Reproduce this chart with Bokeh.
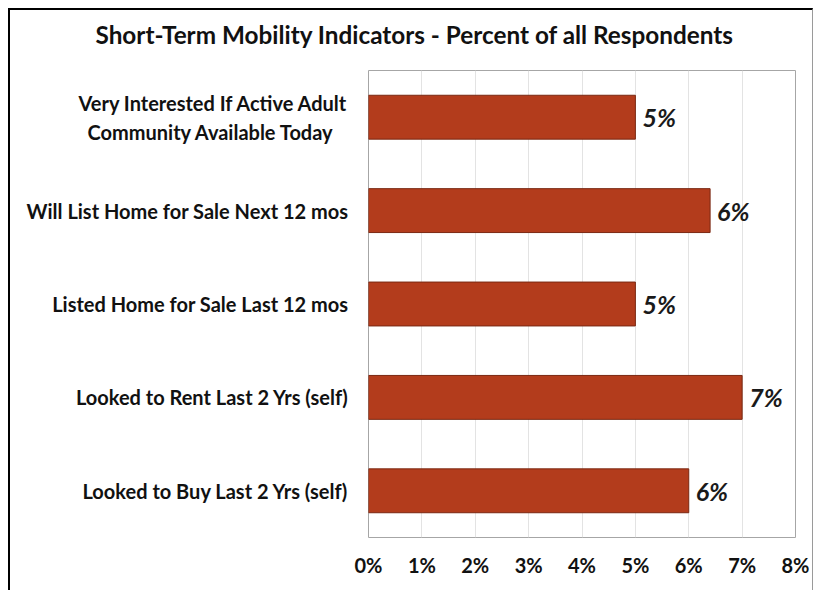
from bokeh.plotting import figure
from bokeh.models import (ColumnDataSource, FactorRange, Range1d, NumeralTickFormatter,
                          FixedTicker, LabelSet, Title)
from bokeh.core.properties import value
from bokeh.embed import file_html
from bokeh.resources import INLINE

NB = "\u00a0"
title_text = "Short-Term Mobility Indicators - Percent of all Respondents"
categories = [
    "Very Interested If Active Adult\nCommunity Available Today" + NB * 3,
    "Will List Home for Sale Next 12 mos",
    "Listed Home for Sale Last 12 mos",
    "Looked to Rent Last 2 Yrs (self)",
    "Looked to Buy Last 2 Yrs (self)",
]
values = [0.050, 0.064, 0.050, 0.070, 0.060]
x_ticks = [0.0, 0.01, 0.02, 0.03, 0.04, 0.05, 0.06, 0.07, 0.08]

labels = ["{:.0f}%".format(v * 100) for v in values]
src = ColumnDataSource(dict(cat=categories, val=values, lab=labels))

FONT = "Lato"
OX, OY = 10, 10
p = figure(width=816 - OX - 1, height=592 - OY, output_backend="svg", toolbar_location=None,
           y_range=FactorRange(*reversed(categories)),
           x_range=Range1d(0, 0.08),
           min_border_left=368 - OX, min_border_right=21 - 1,
           min_border_top=70 - OY, min_border_bottom=592 - 537)
p.styles = {"margin-left": "8px", "margin-top": "8px",
            "border-left": "2px solid #000000", "border-top": "2px solid #000000",
            "border-right": "1px solid #9a9a9a"}
p.y_range.factor_padding = 0
p.y_range.range_padding = 0

p.hbar(y="cat", right="val", height=0.47, source=src,
       fill_color="#B33C1C", line_color="#7A2812", line_width=1)

p.add_layout(LabelSet(x="val", y="cat", text="lab", source=src, x_offset=7,
                      text_font=value(FONT), text_font_style="bold italic",
                      text_font_size="25px",
                      text_baseline="middle", text_color="#1a1a1a"))

p.outline_line_color = "#a6a6a6"
p.outline_line_width = 1
p.background_fill_color = "white"
p.border_fill_color = "white"

p.xgrid.grid_line_color = "#e3e3e3"
p.ygrid.grid_line_color = None

p.xaxis.ticker = FixedTicker(ticks=x_ticks)
p.xaxis.formatter = NumeralTickFormatter(format="0%")
for ax in (p.xaxis, p.yaxis):
    ax.axis_line_color = None
    ax.major_tick_line_color = None
    ax.minor_tick_line_color = None
    ax.major_label_text_font = FONT
    ax.major_label_text_font_style = "bold"
    ax.major_label_text_color = "#111111"
p.xaxis.major_label_text_font_size = "20px"
p.yaxis.major_label_text_font_size = "20px"
p.xaxis.major_label_standoff = 9
p.yaxis.major_label_standoff = 14

# spacer panel between the frame and the title (lifts the title)
p.add_layout(Title(text=" ", text_font=FONT, text_font_size="12px", standoff=3), "above")
p.add_layout(Title(text=title_text, align="left", offset=-273, standoff=0,
                   vertical_align="top",
                   text_font=FONT, text_font_style="bold", text_font_size="24.3px",
                   text_color="#111111"), "above")

open("out.html", "w").write(file_html(p, INLINE))
